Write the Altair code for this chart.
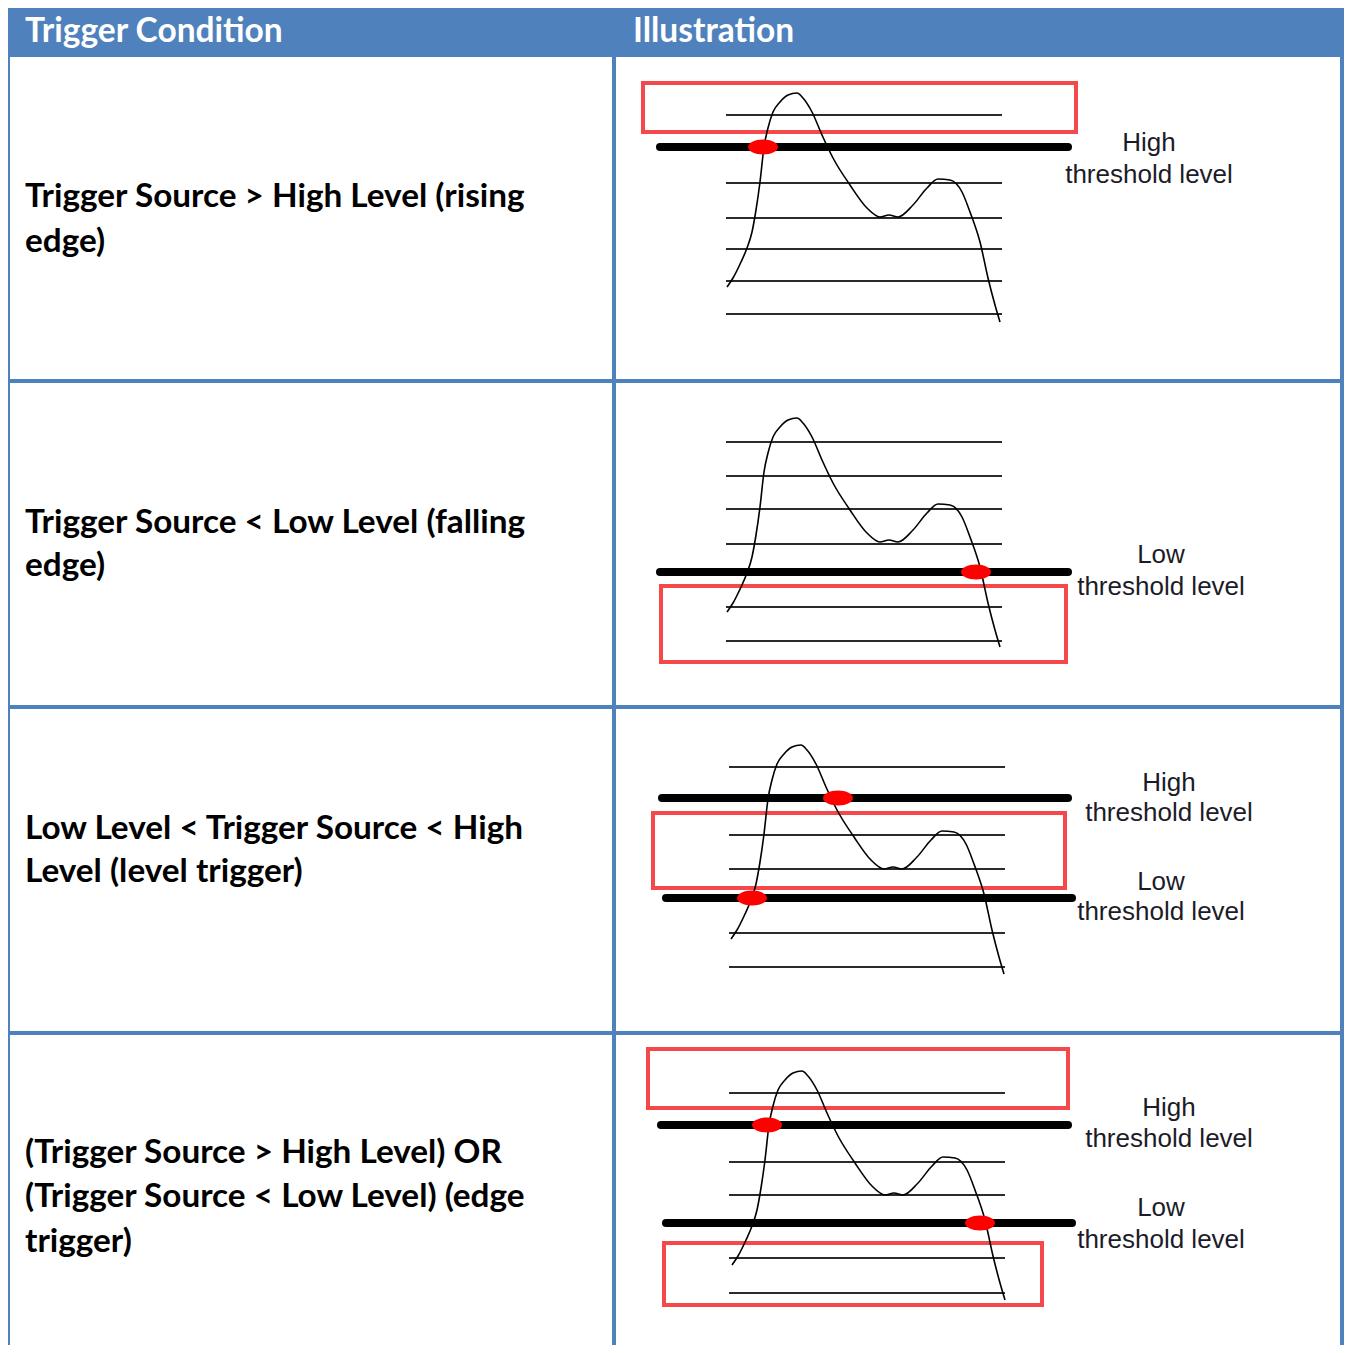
import altair as alt
import pandas as pd

# ---------------- table layout (pixel coordinates of the picture) ----------------
table_left, table_divider, table_right = 8, 614, 1342
header_top, header_bottom = 7, 57
row_bounds = [381, 707, 1033]          # horizontal row separators
table_bottom = 1353

header_labels = ["Trigger Condition", "Illustration"]
header_label_x = [25, 633]
header_label_y = 32

condition_lines = [
    ["Trigger Source > High Level (rising", "edge)"],
    ["Trigger Source < Low Level (falling", "edge)"],
    ["Low Level < Trigger Source  < High", "Level (level trigger)"],
    ["(Trigger Source > High Level) OR", "(Trigger Source < Low Level) (edge", "trigger)"],
]
condition_line_y = [[197, 242], [523, 566], [829, 872], [1153, 1197, 1242]]
condition_x = 25

# ---------------- illustration content ----------------
# signal waveform (panel 1 coordinates) and per-panel offsets
wave_x = [727, 733, 741, 747, 752, 756, 760, 764, 768, 773, 780, 788, 797, 803, 812, 822,
          833, 850, 867, 880, 889, 898, 913, 927, 938, 950, 962, 970, 980, 988, 995, 1000]
wave_y = [287, 278, 262, 248, 232, 210, 182, 147, 128, 112, 102, 95, 93, 98, 112, 135,
          158, 185, 208, 217, 215, 217, 205, 188, 179, 180, 192, 212, 242, 278, 305, 322]
panel_dx = [0, 0, 4, 5]
panel_dy = [0, 325, 652, 978]

grid_y = [[115, 183, 218, 249, 281, 314],
          [442, 476, 509, 544, 607, 641],
          [767, 835, 869, 933, 967],
          [1093, 1162, 1195, 1258, 1293]]
grid_x = [[726, 1002], [726, 1002], [729, 1005], [729, 1005]]

threshold_y = [[147], [572], [798, 898], [1125, 1223]]
threshold_x = [[[660, 1068]], [[660, 1068]], [[662, 1068], [666, 1072]], [[661, 1068], [666, 1072]]]

dot_x = [763, 976, 838, 752, 767, 980]
dot_y = [147, 572, 798, 898, 1125, 1223]

box_x1 = [643, 661, 653, 648, 664]
box_x2 = [1076, 1066, 1065, 1068, 1042]
box_y1 = [83, 586, 813, 1049, 1243]
box_y2 = [132, 662, 888, 1108, 1305]

label_text = ["High", "threshold level", "Low", "threshold level",
              "High", "threshold level", "Low", "threshold level",
              "High", "threshold level", "Low", "threshold level"]
label_x = [1149, 1149, 1161, 1161, 1169, 1169, 1161, 1161, 1169, 1169, 1161, 1161]
label_y = [143, 175, 555, 587, 783, 813, 882, 912, 1108, 1139, 1208, 1240]

BLUE = "#4f81bd"
RED = "#f4484b"

# ---------------- scales: picture pixels -> view ----------------
X0, X1 = 8, 1344
Y0, Y1 = 8, 1345
xs = alt.Scale(domain=[X0, X1], nice=False, zero=False)
ys = alt.Scale(domain=[Y0, Y1], nice=False, zero=False, reverse=True)


def X(f="x"):
    return alt.X(f"{f}:Q", scale=xs, axis=None)


def Y(f="y"):
    return alt.Y(f"{f}:Q", scale=ys, axis=None)


header_df = pd.DataFrame({"x": [X0], "x2": [X1], "y": [Y0], "y2": [header_bottom]})

border_rows = []
for yb in row_bounds:
    border_rows.append({"x": table_left, "x2": X1, "y": yb, "y2": yb})
for xb in [table_left, table_divider, table_right]:
    border_rows.append({"x": xb, "x2": xb, "y": header_bottom, "y2": Y1})
border_df = pd.DataFrame(border_rows)

grid_rows = []
for p, ys_list in enumerate(grid_y):
    for gy in ys_list:
        grid_rows.append({"x": grid_x[p][0], "x2": grid_x[p][1], "y": gy, "y2": gy})
grid_df = pd.DataFrame(grid_rows)

thr_rows = []
for p, ys_list in enumerate(threshold_y):
    for k, ty in enumerate(ys_list):
        thr_rows.append({"x": threshold_x[p][k][0], "x2": threshold_x[p][k][1], "y": ty, "y2": ty})
thr_df = pd.DataFrame(thr_rows)

wave_rows = []
for p in range(4):
    for i, (wx, wy) in enumerate(zip(wave_x, wave_y)):
        wave_rows.append({"panel": p, "i": i, "x": wx + panel_dx[p], "y": wy + panel_dy[p]})
wave_df = pd.DataFrame(wave_rows)

dot_df = pd.DataFrame({"x": dot_x, "y": dot_y})
box_df = pd.DataFrame({"x": box_x1, "x2": box_x2, "y": box_y1, "y2": box_y2})

cond_rows = []
for lines, yl in zip(condition_lines, condition_line_y):
    for t, yy in zip(lines, yl):
        cond_rows.append({"text": t, "x": condition_x, "y": yy})
cond_df = pd.DataFrame(cond_rows)

head_txt_df = pd.DataFrame({"text": header_labels, "x": header_label_x,
                            "y": [header_label_y] * 2})
label_df = pd.DataFrame({"text": label_text, "x": label_x, "y": label_y})

# ---------------- layers ----------------
header = alt.Chart(header_df).mark_rect(color=BLUE, clip=True).encode(
    x=X(), x2="x2:Q", y=Y(), y2="y2:Q")

borders = alt.Chart(border_df).mark_rule(color=BLUE, strokeWidth=4, clip=True).encode(
    x=X(), x2="x2:Q", y=Y(), y2="y2:Q")

grid = alt.Chart(grid_df).mark_rule(color="#2b2b2b", strokeWidth=2).encode(
    x=X(), x2="x2:Q", y=Y(), y2="y2:Q")

thresholds = alt.Chart(thr_df).mark_rule(color="#000000", strokeWidth=8, strokeCap="round").encode(
    x=X(), x2="x2:Q", y=Y(), y2="y2:Q")

boxes = alt.Chart(box_df).mark_rect(filled=False, stroke=RED, strokeWidth=4).encode(
    x=X(), x2="x2:Q", y=Y(), y2="y2:Q")

wave = alt.Chart(wave_df).mark_line(color="#000000", strokeWidth=1.6, interpolate="monotone").encode(
    x=X(), y=Y(), detail="panel:N", order="i:Q")

ellipse = "M-1,0A1,0.5,0,1,1,1,0A1,0.5,0,1,1,-1,0Z"
dots = alt.Chart(dot_df).mark_point(shape=ellipse, filled=True, color="#ff0000",
                                    opacity=1, size=900).encode(x=X(), y=Y())

head_txt = alt.Chart(head_txt_df).mark_text(
    align="left", baseline="middle", font="Lato", fontWeight="bold",
    fontSize=33.5, color="white").encode(x=X(), y=Y(), text="text:N")

cond_txt = alt.Chart(cond_df).mark_text(
    align="left", baseline="middle", font="Lato", fontWeight="bold",
    fontSize=33.3, color="#000000").encode(x=X(), y=Y(), text="text:N")

labels = alt.Chart(label_df).mark_text(
    align="center", baseline="middle", font="Liberation Sans",
    fontSize=26, color="#1c1c28").encode(x=X(), y=Y(), text="text:N")

chart = alt.layer(header, grid, boxes, thresholds, wave, dots, borders,
                  head_txt, cond_txt, labels).properties(
    width=X1 - X0, height=Y1 - Y0, padding=0,
    autosize=alt.AutoSizeParams(type="none")
).configure_view(stroke=None)

chart.save("out.html", embed_options={"renderer": "svg", "actions": False})
